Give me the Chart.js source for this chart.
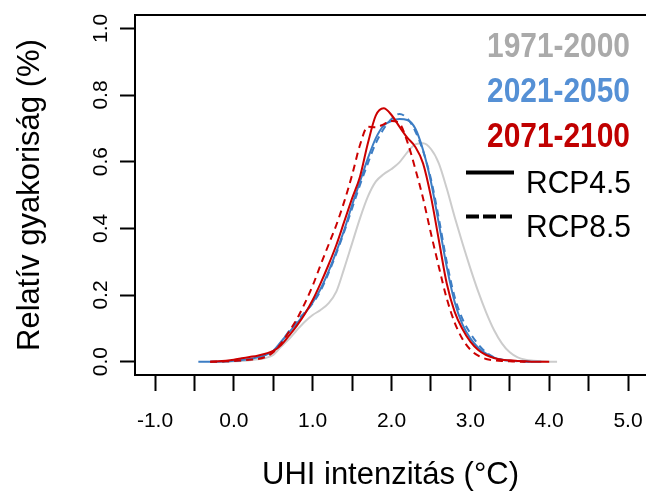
<!DOCTYPE html>
<html>
<head>
<meta charset="utf-8">
<script src="https://cdn.jsdelivr.net/npm/chart.js@4.4.0/dist/chart.umd.min.js"></script>
<style>
  html, body { margin: 0; padding: 0; background: #fff; overflow: hidden; }
  canvas { display: block; }
</style>
</head>
<body>
<canvas id="uhiChart" width="646" height="494"></canvas>
<script>
// UHI intensity grid (°C) shared by all curves
const uhiGrid = [-0.45, -0.3, -0.2, -0.1, 0.0, 0.1, 0.2, 0.3, 0.4, 0.5, 0.6, 0.7, 0.8, 0.9,
  1.0, 1.1, 1.2, 1.3, 1.4, 1.5, 1.6, 1.7, 1.8, 1.9, 2.0, 2.1, 2.2, 2.3, 2.4, 2.5, 2.6, 2.7,
  2.8, 2.9, 3.0, 3.1, 3.2, 3.3, 3.4, 3.5, 3.6, 3.7, 3.8, 3.9, 4.0, 4.1];

// relative frequency
const ref1971 = [null, null, 0.0, 0.0, 0.001, 0.002, 0.004, 0.007, 0.011, 0.02, 0.045, 0.068, 0.095, 0.12,
  0.14, 0.155, 0.175, 0.21, 0.28, 0.355, 0.43, 0.495, 0.54, 0.562, 0.578, 0.598, 0.628, 0.652, 0.655, 0.638, 0.595, 0.52,
  0.435, 0.355, 0.28, 0.21, 0.148, 0.095, 0.055, 0.028, 0.013, 0.006, 0.003, 0.001, 0.0, 0.0];

const mid45 = [0.0, 0.0, 0.0, 0.001, 0.003, 0.005, 0.008, 0.013, 0.02, 0.033, 0.06, 0.088, 0.115, 0.145,
  0.178, 0.218, 0.27, 0.33, 0.395, 0.47, 0.54, 0.61, 0.67, 0.708, 0.722, 0.728, 0.725, 0.70, 0.635, 0.54, 0.415, 0.285,
  0.18, 0.112, 0.07, 0.042, 0.024, 0.012, 0.006, 0.003, 0.002, 0.001, 0.0, 0.0, null, null];

const mid85 = [null, 0.0, 0.0, 0.001, 0.002, 0.004, 0.007, 0.011, 0.018, 0.03, 0.058, 0.092, 0.122, 0.148,
  0.175, 0.213, 0.265, 0.325, 0.39, 0.46, 0.53, 0.595, 0.655, 0.698, 0.728, 0.743, 0.73, 0.692, 0.632, 0.548, 0.43, 0.30,
  0.195, 0.128, 0.085, 0.052, 0.028, 0.013, 0.006, 0.003, 0.001, 0.0, 0.0, null, null, null];

const end45 = [null, 0.0, 0.001, 0.003, 0.006, 0.01, 0.014, 0.018, 0.024, 0.032, 0.05, 0.078, 0.108, 0.143,
  0.185, 0.235, 0.29, 0.35, 0.42, 0.49, 0.555, 0.655, 0.738, 0.76, 0.74, 0.705, 0.672, 0.645, 0.595, 0.495, 0.365, 0.235,
  0.15, 0.098, 0.06, 0.035, 0.02, 0.011, 0.006, 0.004, 0.002, 0.001, 0.0, 0.0, 0.0, null];

const end85 = [null, 0.0, 0.0, 0.001, 0.002, 0.004, 0.006, 0.008, 0.014, 0.028, 0.055, 0.09, 0.128, 0.175,
  0.228, 0.29, 0.35, 0.41, 0.48, 0.56, 0.65, 0.705, 0.703, 0.712, 0.722, 0.715, 0.66, 0.58, 0.49, 0.385, 0.285, 0.19,
  0.118, 0.068, 0.036, 0.018, 0.008, 0.004, 0.002, 0.001, 0.0, 0.0, null, null, null, null];

const xTicks = [-1.0, -0.5, 0.0, 0.5, 1.0, 1.5, 2.0, 2.5, 3.0, 3.5, 4.0, 4.5, 5.0];
const yTicks = [0.0, 0.2, 0.4, 0.6, 0.8, 1.0];

const periodLabels = ['1971-2000', '2021-2050', '2071-2100'];
const scenarioLabels = ['RCP4.5', 'RCP8.5'];

const FONT = '"Liberation Sans", Arial, sans-serif';
const RED = '#cc0000';
const BLUE = '#3c7dc4';
const GREY = '#cccccc';

const toPoints = vals => uhiGrid.map((x, i) => ({ x: x, y: vals[i] }));

function curve(vals, color, dashed) {
  return {
    data: toPoints(vals),
    borderColor: color,
    borderWidth: 2,
    borderDash: dashed ? [7, 5] : [],
    pointRadius: 0,
    fill: false,
    cubicInterpolationMode: 'monotone'
  };
}

// R-style frame (right side falls off the canvas), rotated y labels, text legend
const frameAndLegend = {
  id: 'frameAndLegend',
  afterDraw(chart) {
    const { ctx, chartArea: a, scales } = chart;
    ctx.save();
    ctx.strokeStyle = '#000';
    ctx.lineWidth = 2;
    ctx.beginPath();
    ctx.moveTo(chart.width, a.top);
    ctx.lineTo(a.left, a.top);
    ctx.lineTo(a.left, a.bottom);
    ctx.lineTo(chart.width, a.bottom);
    ctx.stroke();

    ctx.fillStyle = '#000';
    ctx.font = '21px ' + FONT;
    ctx.textAlign = 'center';
    ctx.textBaseline = 'alphabetic';
    yTicks.forEach(v => {
      ctx.save();
      ctx.translate(107, scales.y.getPixelForValue(v));
      ctx.rotate(-Math.PI / 2);
      ctx.fillText(v.toFixed(1), 0, 0);
      ctx.restore();
    });

    const squeeze = (text, right, base, width) => {
      const w = ctx.measureText(text).width;
      ctx.save();
      ctx.translate(right, base);
      ctx.scale(width / w, 1);
      ctx.textAlign = 'right';
      ctx.fillText(text, 0, 0);
      ctx.restore();
    };

    const periodColors = ['#aaaaaa', '#5590d5', '#c00000'];
    const periodBase = [57, 101.5, 146.5];
    ctx.font = 'bold 35px ' + FONT;
    periodLabels.forEach((t, i) => {
      ctx.fillStyle = periodColors[i];
      squeeze(t, 630, periodBase[i], 143);
    });

    ctx.fillStyle = '#000';
    ctx.font = '32px ' + FONT;
    squeeze(scenarioLabels[0], 631, 193, 105);
    squeeze(scenarioLabels[1], 631, 237, 105);

    ctx.strokeStyle = '#000';
    ctx.lineWidth = 4;
    ctx.beginPath();
    ctx.moveTo(466, 172.5);
    ctx.lineTo(514, 172.5);
    ctx.stroke();
    ctx.setLineDash([13, 4]);
    ctx.beginPath();
    ctx.moveTo(466, 216.5);
    ctx.lineTo(512, 216.5);
    ctx.stroke();
    ctx.restore();
  }
};

new Chart(document.getElementById('uhiChart').getContext('2d'), {
  type: 'line',
  data: {
    datasets: [
      curve(end85, RED, true),
      curve(end45, RED, false),
      curve(mid85, BLUE, true),
      curve(mid45, BLUE, false),
      curve(ref1971, GREY, false)
    ]
  },
  options: {
    responsive: false,
    devicePixelRatio: 1,
    animation: false,
    layout: { padding: { left: 0, top: 15, right: 0, bottom: 0 } },
    plugins: { legend: { display: false }, tooltip: { enabled: false } },
    scales: {
      x: {
        type: 'linear',
        min: -1.2537,
        max: 5.228,
        afterBuildTicks: s => { s.ticks = xTicks.map(v => ({ value: v })); },
        afterFit: s => { s.height = 119; s.paddingLeft = 0; s.paddingRight = 0; },
        ticks: {
          autoSkip: false,
          maxRotation: 0,
          padding: 18,
          color: '#000',
          font: { family: FONT, size: 21 },
          callback: v => Number.isInteger(v) ? v.toFixed(1) : ''
        },
        grid: { drawOnChartArea: false, drawTicks: true, tickLength: 16, tickWidth: 2, tickColor: '#000' },
        border: { display: false },
        title: {
          display: true,
          text: 'UHI intenzitás (°C)',
          color: '#000',
          font: { family: FONT, size: 31 },
          padding: { top: 0, bottom: 0 }
        }
      },
      y: {
        type: 'linear',
        min: -0.04,
        max: 1.04,
        afterBuildTicks: s => { s.ticks = yTicks.map(v => ({ value: v })); },
        afterFit: s => { s.width = 135; s.paddingTop = 0; s.paddingBottom = 0; },
        ticks: { display: false },
        grid: { drawOnChartArea: false, drawTicks: true, tickLength: 15, tickWidth: 2, tickColor: '#000' },
        border: { display: false },
        title: {
          display: true,
          text: 'Relatív gyakoriság (%)',
          color: '#000',
          font: { family: FONT, size: 31 },
          padding: { top: 12, bottom: 0 }
        }
      }
    }
  },
  plugins: [frameAndLegend]
});
</script>
</body>
</html>
